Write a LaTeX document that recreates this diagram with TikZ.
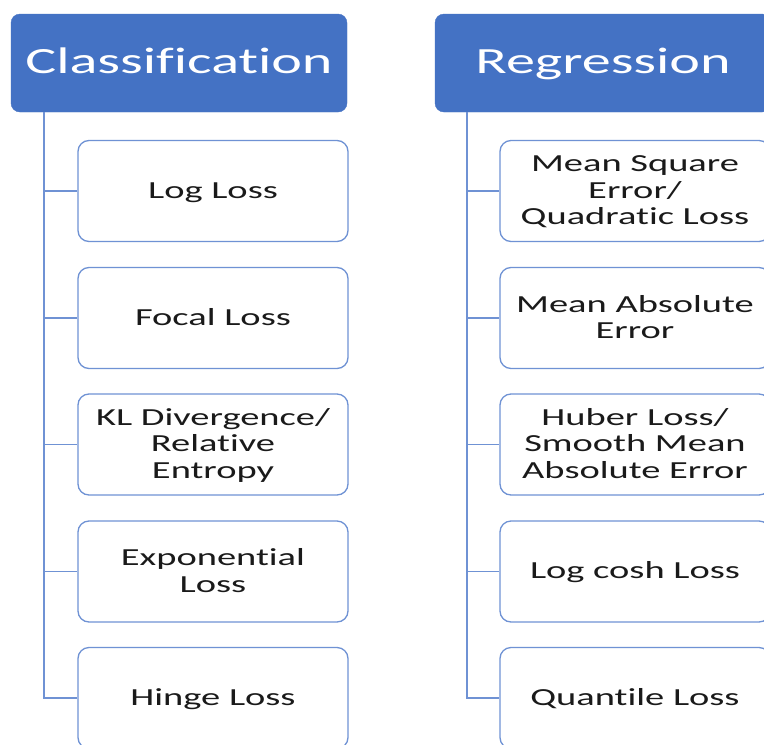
\documentclass[tikz,border=0pt]{standalone}
\usepackage{fontspec}
\setmainfont[Ligatures=CommonOff]{Carlito}
\usepackage{graphicx}
\definecolor{hdrblue}{HTML}{4472C4}
\definecolor{edgeblue}{HTML}{6F92D4}
\definecolor{txt}{HTML}{1A1A1A}
\newcommand{\wtext}[1]{\raisebox{-2pt}[\height][\depth]{\scalebox{1.57}[1]{\begin{tabular}{@{}c@{}}#1\end{tabular}}}}
\newcommand{\htext}[1]{\scalebox{1.57}[1]{#1}}
\begin{document}
\begin{tikzpicture}[x=1pt,y=1pt,
  hdr/.style={fill=hdrblue, draw=hdrblue, rounded corners=9pt, minimum width=336pt, minimum height=98pt, inner sep=0pt, text height=28pt, text depth=8pt, text=white, font=\fontsize{37}{40}\selectfont},
  itembox/.style={draw=edgeblue, line width=1.3pt, fill=white, rounded corners=11pt, minimum width=270pt, minimum height=101pt, inner sep=0pt, text=txt, font=\fontsize{24.5}{26.5}\selectfont},
  conn/.style={draw=edgeblue, line width=1.8pt}]
\path[use as bounding box, clip] (0,0) rectangle (764,-745);
\fill[white] (0,0) rectangle (764,-745);
% headers
\node[hdr] (hL) at (179,-63) {\htext{Classification}};
\node[hdr] (hR) at (603,-63) {\htext{Regression}};
% trunks
\coordinate (tL) at (44,-112);
\coordinate (tR) at (467,-112);
% left boxes
\node[itembox] (l1) at (213,-191) {\wtext{Log Loss}};
\node[itembox] (l2) at (213,-318) {\wtext{Focal Loss}};
\node[itembox] (l3) at (213,-444.5) {\wtext{KL Divergence/\\Relative\\Entropy}};
\node[itembox] (l4) at (213,-571.5) {\wtext{Exponential\\Loss}};
\node[itembox] (l5) at (213,-698) {\wtext{Hinge Loss}};
% right boxes
\node[itembox] (r1) at (635,-191) {\wtext{Mean Square\\Error/\\Quadratic Loss}};
\node[itembox] (r2) at (635,-318) {\wtext{Mean Absolute\\Error}};
\node[itembox] (r3) at (635,-444.5) {\wtext{Huber Loss/\\Smooth Mean\\Absolute Error}};
\node[itembox] (r4) at (635,-571.5) {\wtext{Log cosh Loss}};
\node[itembox] (r5) at (635,-698) {\wtext{Quantile Loss}};
% connectors
\draw[conn] (tL) |- (l5.west);
\foreach \n in {l1,l2,l3,l4} \draw[conn] (tL |- \n.west) -- (\n.west);
\draw[conn] (tR) |- (r5.west);
\foreach \n in {r1,r2,r3,r4} \draw[conn] (tR |- \n.west) -- (\n.west);
\end{tikzpicture}
\end{document}
